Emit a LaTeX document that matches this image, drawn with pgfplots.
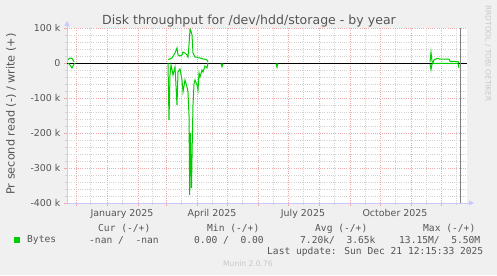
\documentclass[border=0pt]{standalone}
\usepackage{pgfplots}
\pgfplotsset{compat=1.18}
\usepackage{pgfplotstable}
\usepackage{fontspec}
\setmainfont{DejaVu Sans}
\newfontfamily\monofont{DejaVu Sans Mono}
\usetikzlibrary{arrows.meta}
\definecolor{bg}{RGB}{240,240,240}
\definecolor{rrdgreen}{RGB}{0,204,0}
\definecolor{txt}{RGB}{85,85,85}
\definecolor{axblue}{RGB}{200,200,255}
\definecolor{mgrid}{RGB}{238,170,170}
\definecolor{ngrid}{RGB}{210,210,210}
\definecolor{wm}{RGB}{200,200,200}

\pgfplotstableread{
x y
-39 10
-38 12
-37 14
-35 13
-34 9
-33 3
nan nan
61 10
63 11.4
65 14.3
68 28.6
70 42.9
71 22.9
73 20
75 22.9
76 31.4
78 28.6
80 22.9
81 17.1
82 51.4
83 97.1
84 91.4
85 80
86 28.6
88 17.1
90 17.1
91 14.3
93 14.3
96 11.4
98 11.4
100 8.6
101 2.9
nan nan
323 2
324 31
325 5
326 1
327 9
329 12
331 13
333 11
342 11
343 5
351 4
352 1
}\writedata

\pgfplotstableread{
x y
-39 0
-37 -5.7
-35 -14.3
-34 -8.6
-33 -2.9
-32 0
nan nan
61 0
62 -162.9
63 -34.3
64 -5.7
66 -34.3
68 -11.4
70 -120
71 -25.7
73 -17.1
75 -48.6
76 -82.9
78 -48.6
80 -68.6
81 -82.9
82 -150
82.7 -377
83.3 -200
83.8 -268.6
84.5 -357
85.3 -220
86 -120
87 -60
88 -48.6
90 -62.9
91 -77
92 -28.6
93 -40
95 -20
96 -25.7
98 -8.6
100 -14.3
101 0
nan nan
114 -1
115 -11
116 -1
nan nan
169 -1
170 -12
171 -1
nan nan
323 -2
324 -19
325 -3
326 -1
330 -1
351 -1
352 -14
}\readdata

\begin{document}
\begin{tikzpicture}[x=1bp,y=1bp]
\path[use as bounding box, fill=bg] (0,0) rectangle (497,275);
\begin{axis}[
  at={(67bp,72bp)}, anchor=south west,
  scale only axis, width=400bp, height=175bp,
  xmin=-40, xmax=360, ymin=-400, ymax=100,
  axis background/.style={fill=white},
  axis lines=left,
  axis line style={draw=axblue, line width=0.8bp},
  x axis line style={-{Triangle[length=5bp,width=5bp]}, shorten >=-7bp},
  y axis line style={-{Triangle[length=5bp,width=5bp]}, shorten >=-7bp},
  xtick={-31,0,31,59,90,120,151,181,212,243,273,304,334},
  xticklabels={,January 2025,,,April 2025,,,July 2025,,,October 2025,,},
  minor xtick={-17,15,45,74,105,135,166,196,227,258,288,319,349},
  ytick={-400,-300,-200,-100,0,100},
  yticklabels={-400 k,-300 k,-200 k,-100 k,0,100 k},
  minor y tick num=4,
  grid=both,
  major grid style={mgrid, dash pattern=on 1bp off 1.2bp, line width=0.6bp},
  minor grid style={ngrid, dash pattern=on 1bp off 1.2bp, line width=0.6bp},
  tick align=outside, major tick length=3bp, minor tick length=2bp,
  major tick style={mgrid, line width=0.8bp},
  minor tick style={ngrid, line width=0.8bp},
  ticklabel style={font=\fontsize{9.5}{11}\selectfont, text=txt},
  xticklabel style={xshift=15bp},
  unbounded coords=jump,
  legend style={at={(axis description cs:-0.1325,-0.2114)}, anchor=west,
    draw=none, fill=none, inner sep=0pt,
    font=\monofont\fontsize{9.65}{11}\selectfont, text=txt,
    nodes={inner sep=0pt}},
  legend image code/.code={\fill[rrdgreen, draw=none] (0bp,-3bp) rectangle (6bp,3bp); \path[draw=none, fill=none] (0bp,0bp) -- (13bp,0bp);},
]
\addplot[black, line width=1bp, forget plot] coordinates {(-40,0) (360,0)};
\addplot[black!50, line width=1bp, forget plot] coordinates {(353,-400) (353,100)};
\addplot[rrdgreen, line width=1bp, forget plot] table[x=x,y=y] {\readdata};
\addplot[rrdgreen, line width=1bp] table[x=x,y=y] {\writedata};
\addlegendentry{Bytes}
\end{axis}
\node[font=\fontsize{12.6}{14}\selectfont, text=txt, anchor=base] at (249,251) {Disk throughput for /dev/hdd/storage - by year};
\node[font=\fontsize{11.3}{13}\selectfont, text=txt, rotate=90, anchor=center] at (11,161) {Pr second read (-) / write (+)};
\node[font=\fontsize{7.5}{9}\selectfont, text=wm, rotate=-90, anchor=center] at (488,221.5) {RRDTOOL / TOBI OETIKER};
\begin{scope}[every node/.style={font=\monofont\fontsize{9.65}{11}\selectfont, text=txt, anchor=base west, inner sep=0pt}]
\node at (98,44) {Cur (-/+)};
\node at (207,44) {Min (-/+)};
\node at (315,44) {Avg (-/+)};
\node at (423,44) {Max (-/+)};
\node at (89,32) {-nan /\ \ -nan};
\node at (194,32) {0.00 /\ \ 0.00};
\node at (300,32) {7.20k/\ \ 3.65k};
\node at (399,32) {13.15M/\ \ 5.50M};
\node at (267,20.5) {Last update: Sun Dec 21 12:15:33 2025};
\end{scope}
\node[font=\fontsize{7.6}{9}\selectfont, text=wm, anchor=west, inner sep=0pt] at (223,11) {Munin 2.0.76};
\end{tikzpicture}
\end{document}
